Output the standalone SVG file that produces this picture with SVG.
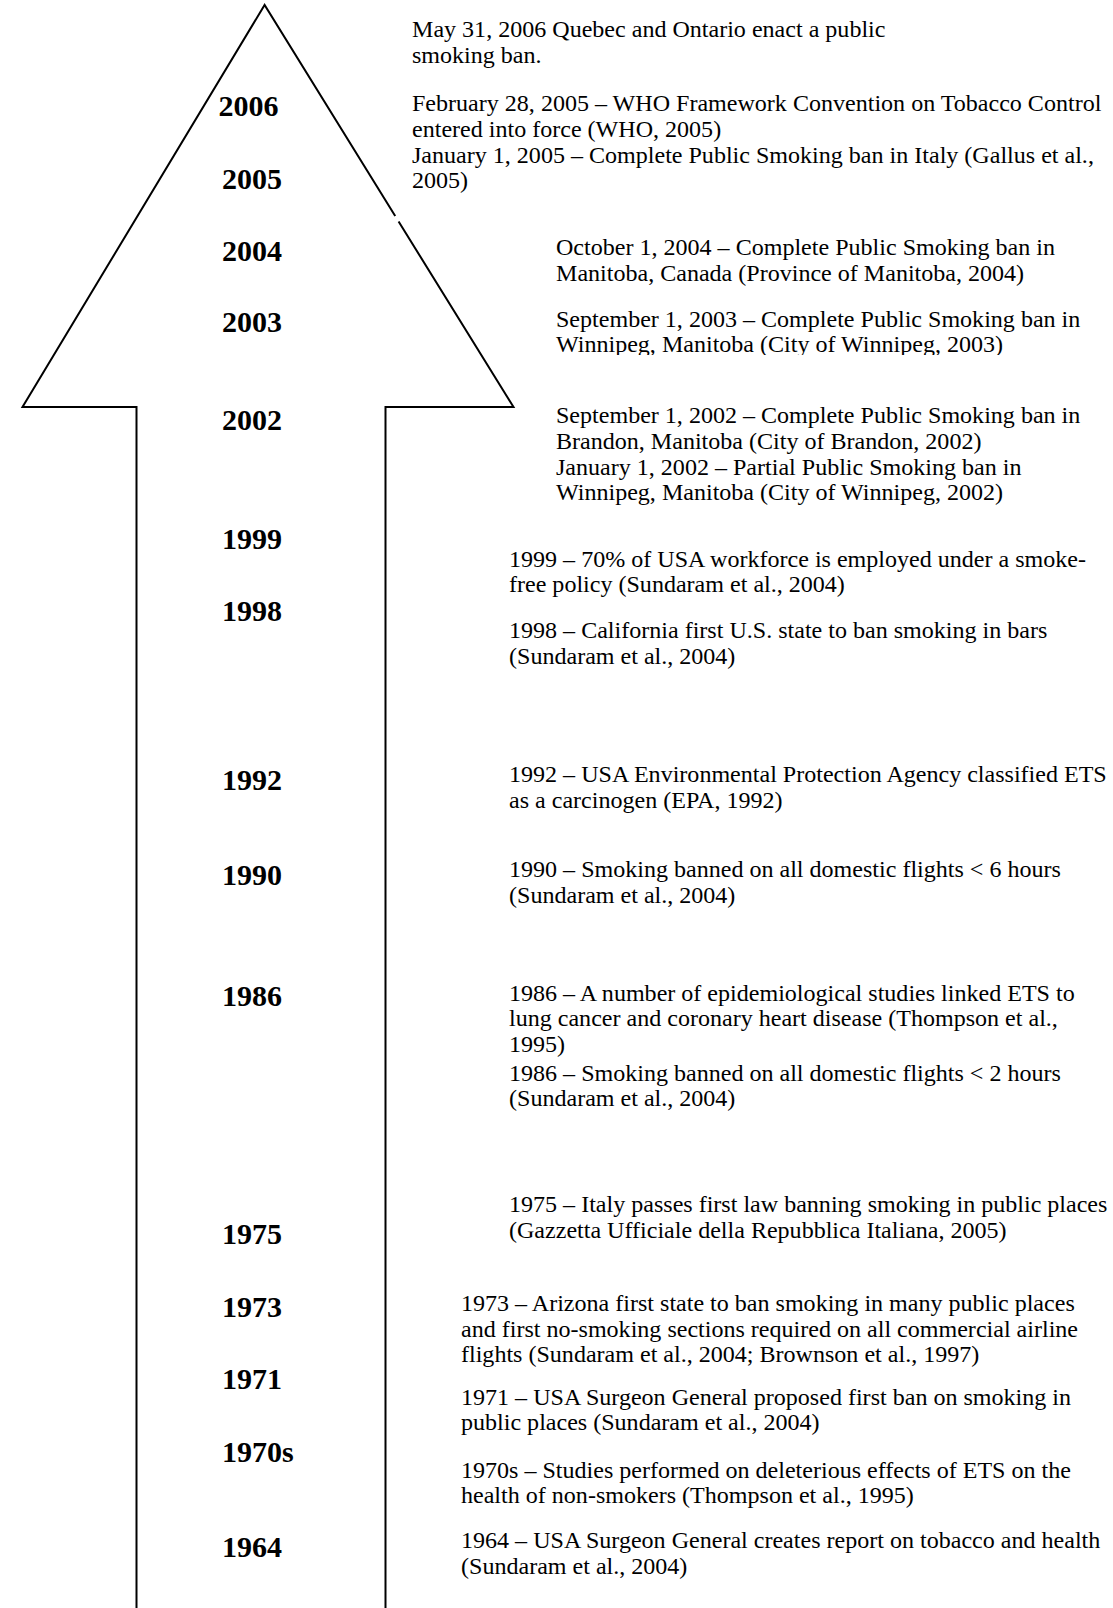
<svg xmlns="http://www.w3.org/2000/svg" width="1113" height="1608" viewBox="0 0 1113 1608">
<style>
.yr{font-family:"Liberation Serif","Times New Roman",serif;font-weight:bold;font-size:30px;fill:#000}
.tx{font-family:"Liberation Serif","Times New Roman",serif;font-size:24.05px;fill:#000}
.ln{fill:none;stroke:#000;stroke-width:2;stroke-linejoin:miter}
</style>
<defs>
<clipPath id="clip2003"><rect x="540" y="330" width="560" height="25"/></clipPath>
</defs>
<rect width="1113" height="1608" fill="#fff"/>
<g id="arrow">
<path class="ln" d="M136.5,1608 L136.5,407 L22.5,407 L264.6,5 L395.2,216"/>
<path class="ln" d="M398.6,221.5 L513.5,407 L385.5,407 L385.5,1608"/>
</g>
<g id="years">
<g id="y2006"><text class="yr" x="218.5" y="116">2006</text></g>
<g id="y2005"><text class="yr" x="222" y="188.5">2005</text></g>
<g id="y2004"><text class="yr" x="222" y="260.5">2004</text></g>
<g id="y2003"><text class="yr" x="222" y="332">2003</text></g>
<g id="y2002"><text class="yr" x="222" y="429.5">2002</text></g>
<g id="y1999"><text class="yr" x="222" y="548.5">1999</text></g>
<g id="y1998"><text class="yr" x="222" y="620.5">1998</text></g>
<g id="y1992"><text class="yr" x="222" y="789.5">1992</text></g>
<g id="y1990"><text class="yr" x="222" y="885">1990</text></g>
<g id="y1986"><text class="yr" x="222" y="1006">1986</text></g>
<g id="y1975"><text class="yr" x="222" y="1244">1975</text></g>
<g id="y1973"><text class="yr" x="222" y="1317">1973</text></g>
<g id="y1971"><text class="yr" x="222" y="1389">1971</text></g>
<g id="y1970s"><text class="yr" x="222" y="1461.5">1970s</text></g>
<g id="y1964"><text class="yr" x="222" y="1557">1964</text></g>
</g>
<g id="events">
<g id="e2006">
<text class="tx" x="412" y="37">May 31, 2006 Quebec and Ontario enact a public</text>
<text class="tx" x="412" y="63">smoking ban.</text>
</g>
<g id="e2005">
<text class="tx" x="412" y="111">February 28, 2005 – WHO Framework Convention on Tobacco Control</text>
<text class="tx" x="412" y="136.8">entered into force (WHO, 2005)</text>
<text class="tx" x="412" y="162.6">January 1, 2005 – Complete Public Smoking ban in Italy (Gallus et al.,</text>
<text class="tx" x="412" y="188.4">2005)</text>
</g>
<g id="e2004">
<text class="tx" x="556" y="254.7">October 1, 2004 – Complete Public Smoking ban in</text>
<text class="tx" x="556" y="280.5">Manitoba, Canada (Province of Manitoba, 2004)</text>
</g>
<g id="e2003">
<text class="tx" x="556" y="326.5">September 1, 2003 – Complete Public Smoking ban in</text>
<text class="tx" x="556" y="352.3" clip-path="url(#clip2003)">Winnipeg, Manitoba (City of Winnipeg, 2003)</text>
</g>
<g id="e2002">
<text class="tx" x="556" y="423">September 1, 2002 – Complete Public Smoking ban in</text>
<text class="tx" x="556" y="448.8">Brandon, Manitoba (City of Brandon, 2002)</text>
<text class="tx" x="556" y="474.6">January 1, 2002 – Partial Public Smoking ban in</text>
<text class="tx" x="556" y="500.4">Winnipeg, Manitoba (City of Winnipeg, 2002)</text>
</g>
<g id="e1999">
<text class="tx" x="509" y="566.5">1999 – 70% of USA workforce is employed under a smoke-</text>
<text class="tx" x="509" y="592.3">free policy (Sundaram et al., 2004)</text>
</g>
<g id="e1998">
<text class="tx" x="509" y="638.4">1998 – California first U.S. state to ban smoking in bars</text>
<text class="tx" x="509" y="664.2">(Sundaram et al., 2004)</text>
</g>
<g id="e1992">
<text class="tx" x="509" y="782">1992 – USA Environmental Protection Agency classified ETS</text>
<text class="tx" x="509" y="807.8">as a carcinogen (EPA, 1992)</text>
</g>
<g id="e1990">
<text class="tx" x="509" y="877.4">1990 – Smoking banned on all domestic flights &lt; 6 hours</text>
<text class="tx" x="509" y="903.2">(Sundaram et al., 2004)</text>
</g>
<g id="e1986">
<text class="tx" x="509" y="1000.5">1986 – A number of epidemiological studies linked ETS to</text>
<text class="tx" x="509" y="1026.3">lung cancer and coronary heart disease (Thompson et al.,</text>
<text class="tx" x="509" y="1052.1">1995)</text>
<text class="tx" x="509" y="1080.5">1986 – Smoking banned on all domestic flights &lt; 2 hours</text>
<text class="tx" x="509" y="1106.3">(Sundaram et al., 2004)</text>
</g>
<g id="e1975">
<text class="tx" x="509" y="1212">1975 – Italy passes first law banning smoking in public places</text>
<text class="tx" x="509" y="1238.2">(Gazzetta Ufficiale della Repubblica Italiana, 2005)</text>
</g>
<g id="e1973">
<text class="tx" x="461" y="1310.8">1973 – Arizona first state to ban smoking in many public places</text>
<text class="tx" x="461" y="1336.6">and first no-smoking sections required on all commercial airline</text>
<text class="tx" x="461" y="1362.4">flights (Sundaram et al., 2004; Brownson et al., 1997)</text>
</g>
<g id="e1971">
<text class="tx" x="461" y="1404.6">1971 – USA Surgeon General proposed first ban on smoking in</text>
<text class="tx" x="461" y="1430.4">public places (Sundaram et al., 2004)</text>
</g>
<g id="e1970s">
<text class="tx" x="461" y="1477.5">1970s – Studies performed on deleterious effects of ETS on the</text>
<text class="tx" x="461" y="1503.3">health of non-smokers (Thompson et al., 1995)</text>
</g>
<g id="e1964">
<text class="tx" x="461" y="1548.3">1964 – USA Surgeon General creates report on tobacco and health</text>
<text class="tx" x="461" y="1574.1">(Sundaram et al., 2004)</text>
</g>
</g>
</svg>
